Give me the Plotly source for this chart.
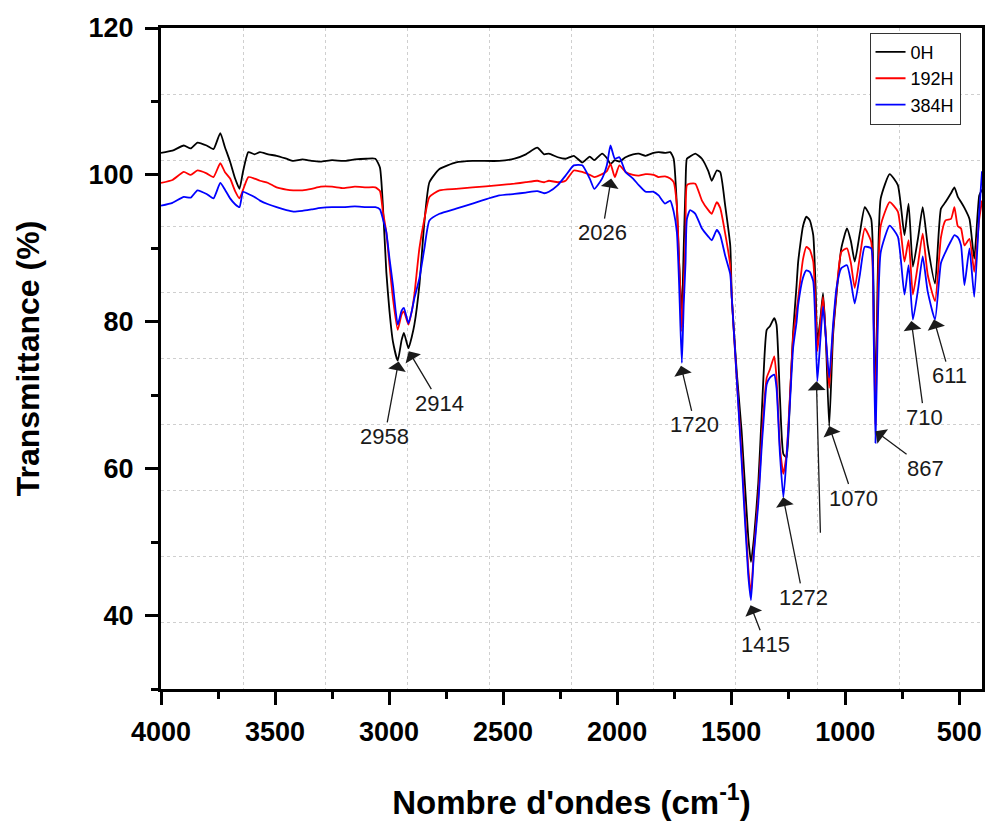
import plotly.graph_objects as go

# FTIR spectra: wavenumber grid (cm-1) and transmittance (%) for each ageing time
wavenumber = [
    4000, 3950, 3900, 3870, 3840, 3800, 3770, 3740, 3720, 3697, 3675, 3656, 3640,
    3617, 3590, 3566, 3530, 3493, 3450, 3420, 3380, 3340, 3300, 3250, 3200, 3150,
    3100, 3060, 3040, 3027, 3012, 2998, 2983, 2962, 2945, 2935, 2915, 2900, 2889,
    2867, 2845, 2823, 2779, 2706, 2634, 2517, 2450, 2400, 2350, 2320, 2299, 2260,
    2226, 2190, 2153, 2120, 2100, 2066, 2045, 2029, 2010, 1990, 1963, 1930, 1905,
    1875, 1840, 1818, 1790, 1767, 1752, 1738, 1728, 1723, 1716, 1708, 1700, 1694,
    1680, 1657, 1628, 1600, 1585, 1563, 1548, 1526, 1504, 1497, 1475, 1454, 1425,
    1413, 1400, 1381, 1366, 1359, 1344, 1330, 1311, 1301, 1286, 1271, 1257, 1242,
    1228, 1213, 1206, 1185, 1170, 1155, 1140, 1130, 1122, 1110, 1097, 1085, 1070,
    1053, 1038, 1017, 992, 975, 958, 935, 914, 886, 876, 867, 858, 844, 805, 769,
    740, 722, 703, 680, 660, 638, 606, 580, 560, 536, 521, 506, 492, 477, 455, 434,
    412, 400,
]

t_0h = [
    103.0, 103.3, 104.0, 103.6, 104.4, 104.0, 103.5, 105.7, 103.8, 101.8, 99.5, 98.1, 100.5,
    103.1, 102.8, 103.1, 102.8, 102.6, 102.2, 101.9, 102.1, 101.9, 101.8, 102.0, 101.9, 102.1,
    102.2, 102.2, 101.0, 95.8, 86.8, 81.4, 77.3, 74.7, 77.5, 78.5, 76.4, 78.0, 79.6,
    85.0, 93.6, 99.0, 100.8, 101.7, 101.9, 101.9, 102.2, 102.8, 103.7, 102.8, 102.9, 102.4,
    102.2, 102.6, 101.7, 102.5, 102.0, 102.9, 102.3, 101.5, 102.0, 101.8, 102.4, 102.8, 102.9,
    102.6, 103.0, 103.1, 103.0, 103.1, 102.2, 95.8, 88.0, 84.6, 81.2, 90.0, 98.5, 102.2,
    102.5, 102.9, 102.2, 100.5, 99.2, 100.6, 100.4, 95.8, 90.4, 83.2, 73.0, 65.1, 50.7,
    47.3, 50.5, 58.0, 67.4, 72.0, 78.9, 79.4, 80.5, 79.6, 69.7, 62.0, 61.5, 69.7,
    78.7, 85.0, 88.2, 93.0, 94.3, 93.8, 91.8, 85.0, 77.3, 80.0, 83.9, 78.0, 65.8,
    78.2, 83.7, 90.0, 92.7, 91.0, 88.2, 92.2, 95.6, 94.0, 85.0, 68.0, 85.0, 96.8, 100.1, 98.6,
    91.8, 96.1, 87.5, 91.5, 95.6, 90.4, 85.2, 95.4, 96.3, 97.5, 98.3, 97.0, 96.3, 95.5, 94.0, 88.6,
    97.2, 98.0,
]

t_192h = [
    98.9, 99.3, 100.4, 100.0, 100.6, 100.2, 99.7, 101.6, 100.4, 99.5, 97.8, 96.8, 98.0,
    99.7, 99.5, 99.2, 98.9, 98.3, 98.0, 97.9, 97.9, 98.1, 98.4, 98.4, 98.2, 98.4,
    98.3, 98.3, 97.8, 95.0, 92.2, 87.7, 83.2, 78.9, 81.0, 81.4, 79.6, 81.5, 83.7,
    90.0, 94.0, 97.0, 97.9, 98.1, 98.3, 98.6, 98.8, 99.0, 99.2, 99.0, 99.2, 99.0,
    99.2, 100.6, 100.4, 100.0, 99.7, 100.1, 100.5, 101.5, 99.7, 101.3, 100.4, 100.0, 99.9,
    100.1, 100.0, 99.7, 99.8, 99.5, 99.0, 95.8, 88.0, 84.6, 78.7, 85.0, 91.3, 98.6,
    98.8, 98.8, 96.5, 95.2, 94.7, 96.3, 95.5, 92.0, 87.7, 83.2, 72.0, 62.0, 46.5,
    43.0, 49.0, 56.1, 64.0, 67.4, 72.4, 73.5, 75.3, 72.4, 62.9, 59.3, 62.0, 70.0,
    78.0, 81.5, 83.2, 88.5, 90.2, 89.8, 88.2, 82.0, 76.0, 79.5, 83.4, 78.0, 71.0,
    79.0, 84.1, 89.5, 90.0, 88.0, 84.6, 89.0, 92.7, 90.9, 82.0, 66.0, 82.0, 93.1, 96.3, 95.0,
    88.2, 91.1, 83.7, 88.0, 92.0, 86.4, 82.8, 91.5, 93.8, 94.0, 95.6, 93.0, 92.7, 90.4, 91.3, 86.8,
    94.0, 96.5,
]

t_384h = [
    95.8, 96.2, 97.0, 96.9, 97.9, 97.4, 96.8, 98.9, 98.0, 96.8, 96.0, 95.6, 97.7,
    97.4, 97.0, 96.5, 96.0, 95.6, 95.2, 95.0, 95.1, 95.3, 95.5, 95.6, 95.6, 95.7,
    95.6, 95.6, 95.3, 94.0, 92.2, 88.6, 85.0, 79.6, 81.5, 81.9, 79.8, 81.5, 83.2,
    85.9, 90.0, 93.8, 94.7, 95.4, 96.1, 97.2, 97.4, 97.6, 97.8, 97.5, 97.7, 98.6,
    99.9, 101.3, 101.3, 99.5, 98.1, 99.5, 101.3, 104.0, 102.2, 102.4, 100.4, 99.5, 98.6,
    97.7, 97.7, 97.2, 96.1, 96.5, 95.0, 92.2, 85.0, 80.0, 74.4, 82.3, 88.0, 94.0,
    95.2, 94.7, 92.7, 91.6, 91.1, 92.5, 91.8, 89.0, 86.5, 83.2, 72.0, 61.0, 45.5,
    42.1, 48.5, 55.2, 63.0, 66.0, 71.5, 72.4, 72.8, 71.0, 62.0, 56.1, 61.5, 69.0,
    76.5, 80.0, 82.3, 86.0, 87.0, 86.8, 85.5, 79.0, 71.9, 77.0, 82.1, 78.0, 72.4,
    79.6, 84.6, 87.3, 87.7, 85.5, 82.5, 86.5, 90.2, 90.0, 80.0, 63.5, 78.0, 89.5, 93.1, 91.6,
    83.7, 87.7, 80.3, 84.5, 88.9, 84.1, 80.3, 88.0, 89.5, 91.0, 91.8, 91.5, 90.4, 85.0, 90.0, 83.4,
    95.0, 100.5,
]

series_names = ["0H", "192H", "384H"]
series_colors = ["#000000", "#ff0000", "#0000ff"]

# Assigned bands: label, wavenumber of the arrow tip, transmittance at the tip
band_labels = ["2958", "2914", "2026", "1720", "1415", "1272", "", "1070", "867", "710", "611"]
band_wn = [2958, 2914, 2026, 1720, 1415, 1272, 1126, 1070, 867, 710, 611]
band_t = [74.6, 76.0, 99.5, 74.0, 41.4, 56.1, 71.9, 65.8, 65.1, 80.1, 80.3]
# label offsets from the arrow tip, in pixels
band_dx = [-14, 31, -9, 14, 15, 20, 4, 24, 50, 13, 16]
band_dy = [75, 52, 54, 59, 39, 100, 153, 72, 37, 96, 56]

FONT = "Arial, Liberation Sans, sans-serif"

fig = go.Figure()
for name, color, vals in zip(series_names, series_colors, [t_0h, t_192h, t_384h]):
    fig.add_trace(go.Scatter(
        x=wavenumber, y=vals, mode="lines", name=name,
        line=dict(color=color, width=1.8, shape="spline", smoothing=0.5),
    ))

# empty trace that anchors the overlay axes carrying the 10x10 background grid
fig.add_trace(go.Scatter(x=[], y=[], xaxis="x2", yaxis="y2",
                         showlegend=False, hoverinfo="skip"))

for lab, wn, t, dx, dy in zip(band_labels, band_wn, band_t, band_dx, band_dy):
    fig.add_annotation(
        x=wn, y=t, xref="x", yref="y", text=lab,
        showarrow=True, arrowhead=1, arrowsize=2.3, arrowwidth=1.3,
        arrowcolor="#1a1a1a", ax=dx, ay=dy, standoff=0,
        font=dict(family=FONT, size=22, color="#1a1a1a"),
    )

axis_common = dict(
    showline=True, linecolor="black", linewidth=3, mirror=True,
    ticks="outside", ticklen=13, tickwidth=3, tickcolor="black",
    showgrid=False, zeroline=False,
    tickfont=dict(family=FONT, size=27, color="black", weight="bold"),
)

fig.update_layout(
    width=989, height=821,
    margin=dict(l=161, r=4, t=28, b=128),
    paper_bgcolor="white", plot_bgcolor="white",
    showlegend=True,
    legend=dict(
        x=0.863, y=0.993, xanchor="left", yanchor="top",
        bgcolor="white", bordercolor="#333333", borderwidth=1,
        font=dict(family=FONT, size=18, color="black"),
        tracegroupgap=0, itemwidth=30,
    ),
    xaxis=dict(
        range=[4000, 400], tickvals=[4000, 3500, 3000, 2500, 2000, 1500, 1000, 500],
        minor=dict(tickvals=[3750, 3250, 2750, 2250, 1750, 1250, 750],
                   ticks="outside", ticklen=7, tickwidth=3, tickcolor="black"),
        title=dict(text="Nombre d'ondes (cm<sup>-1</sup>)",
                   font=dict(family=FONT, size=33, color="black", weight="bold"),
                   standoff=46),
        ticklabelstandoff=4,
        **axis_common,
    ),
    yaxis=dict(
        range=[30, 120], tickvals=[40, 60, 80, 100, 120],
        minor=dict(tickvals=[30, 50, 70, 90, 110],
                   ticks="outside", ticklen=7, tickwidth=3, tickcolor="black"),
        title=dict(text="Transmittance (%)",
                   font=dict(family=FONT, size=32, color="black", weight="bold"),
                   standoff=40),
        ticklabelstandoff=6,
        **axis_common,
    ),
    xaxis2=dict(range=[0, 10], dtick=1, overlaying="x", showgrid=True,
                gridcolor="#cfcfcf", griddash="dot", gridwidth=1,
                showticklabels=False, ticks="", zeroline=False, showline=False),
    yaxis2=dict(range=[0, 10], dtick=1, overlaying="y", showgrid=True,
                gridcolor="#cfcfcf", griddash="dot", gridwidth=1,
                showticklabels=False, ticks="", zeroline=False, showline=False),
)

fig.write_html("out.html")
